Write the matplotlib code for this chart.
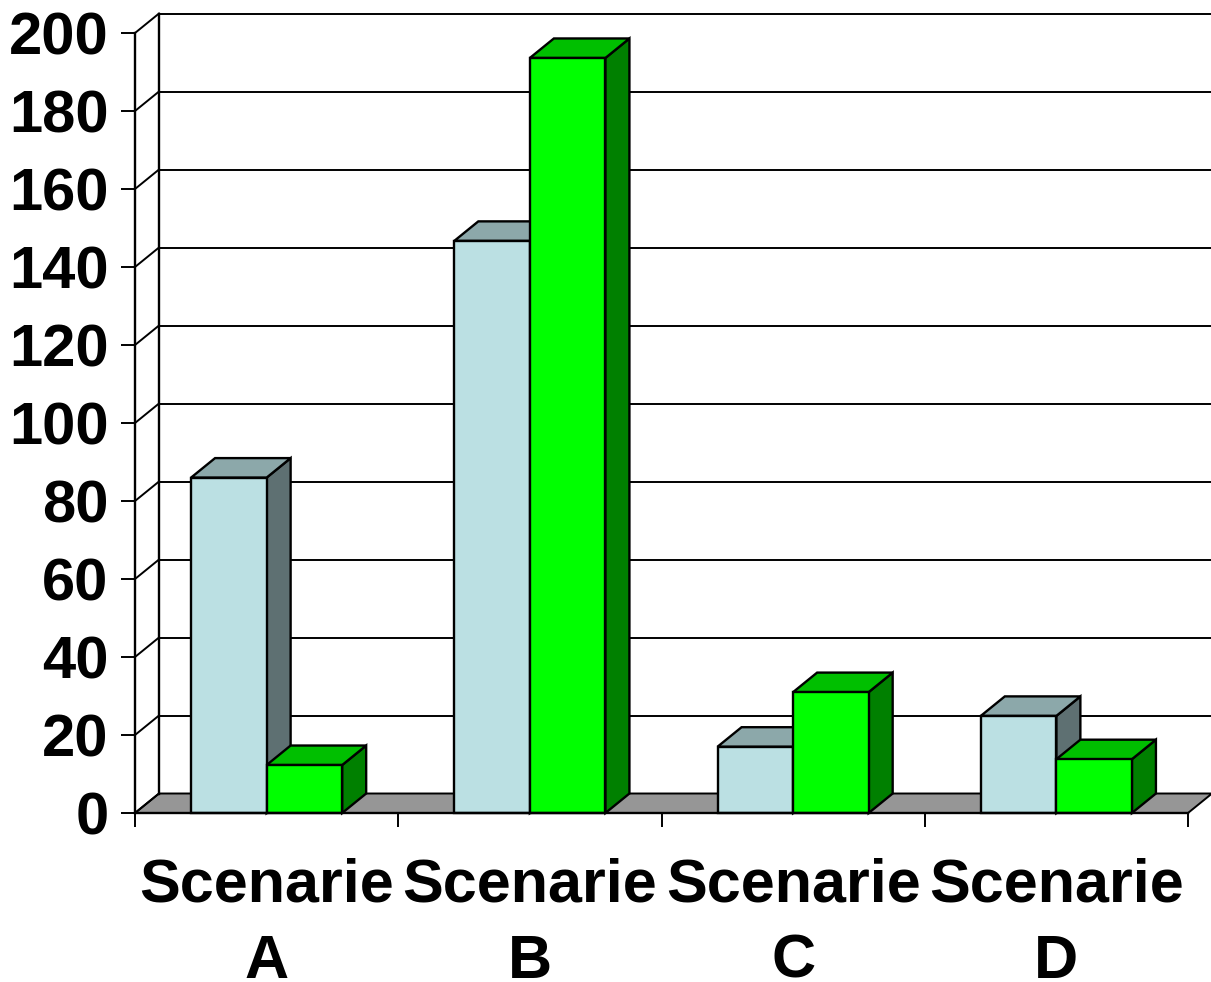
import matplotlib
matplotlib.use("Agg")
import matplotlib.pyplot as plt
from matplotlib.patches import Polygon

plt.rcParams['font.family'] = ['Liberation Sans', 'DejaVu Sans']

category_word = "Scenarie"
categories = ["A", "B", "C", "D"]
series_1 = [86, 146.7, 17, 24.9]
series_2 = [12.3, 193.6, 31, 13.8]
yticks = [0, 20, 40, 60, 80, 100, 120, 140, 160, 180, 200]

W, H = 1211, 982
fig = plt.figure(figsize=(W / 100, H / 100), dpi=100)
ax = fig.add_axes([135 / W, 1 - 813 / H, 1053 / W, 780 / H])
ax.set_xlim(0, 4)
ax.set_ylim(0, 200)
ax.set_facecolor("none")

# depth of the fake 3d box, in data units
dx = 24 / 263.25
dy = 19.5 / 3.9
bar_w = 0.287
lw = 1.7
grid_lw = 1.4


def box(x, h, front, top, side, z):
    ax.bar(x, h, bar_w, align="edge", color=front, edgecolor="black", linewidth=lw, zorder=z + 0.2, clip_on=False)
    ax.add_patch(Polygon([(x, h), (x + dx, h + dy), (x + bar_w + dx, h + dy), (x + bar_w, h)],
                         fc=top, ec="black", lw=lw, zorder=z + 0.1, clip_on=False))
    ax.add_patch(Polygon([(x + bar_w, 0), (x + bar_w + dx, dy), (x + bar_w + dx, h + dy), (x + bar_w, h)],
                         fc=side, ec="black", lw=lw, zorder=z, clip_on=False))


# floor and back wall
ax.add_patch(Polygon([(0, 0), (dx, dy), (4 + dx, dy), (4, 0)], fc="#969696", ec="black", lw=grid_lw, zorder=1, clip_on=False))
ax.plot([dx, dx], [dy, 200 + dy], color="black", lw=lw, zorder=1.5, clip_on=False)
for t in yticks:
    if t > 0:
        ax.plot([dx, 4 + dx], [t + dy, t + dy], color="black", lw=grid_lw, zorder=1.5, clip_on=False)
    ax.plot([0, dx], [t, t + dy], color="black", lw=grid_lw, zorder=1.5, clip_on=False)

for i in range(4):
    x0 = i + 0.5 - bar_w
    box(x0, series_1[i], "#BBE0E3", "#8CA8AA", "#5E7072", 2 + i * 2)
    box(x0 + bar_w, series_2[i], "#00FF00", "#00BF00", "#008000", 3 + i * 2)

for s in ["top", "right"]:
    ax.spines[s].set_visible(False)
for s in ["left", "bottom"]:
    ax.spines[s].set_linewidth(lw)
    ax.spines[s].set_zorder(20)

ax.set_yticks(yticks)
ax.set_yticklabels([str(t) for t in yticks], fontsize=43, fontweight="bold", va="center_baseline")
ax.set_xticks(range(5))
ax.set_xticklabels([])
ax.tick_params(axis="y", length=10, width=grid_lw, pad=9)
ax.tick_params(axis="x", length=10, width=grid_lw)

for i, c in enumerate(categories):
    ax.text(i + 0.5, -22.6, category_word, ha="center", va="baseline", fontsize=44, fontweight="bold")
    ax.text(i + 0.5, -42.3, c, ha="center", va="baseline", fontsize=44, fontweight="bold")

fig.savefig("out.png", dpi=100)
